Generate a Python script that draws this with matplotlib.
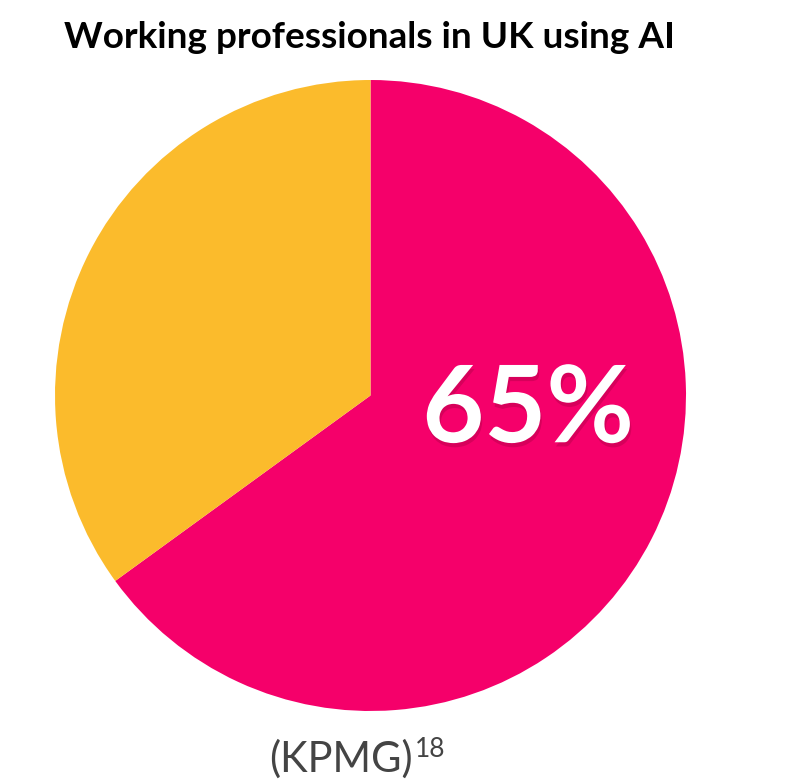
import matplotlib
matplotlib.use("Agg")
import matplotlib.pyplot as plt
import matplotlib.patheffects as pe

labels = ["Using AI", "Not using AI"]
values = [65, 35]
colors = ["#F5006A", "#FBBB2C"]
center_label = "65%"
title = "Working professionals in UK using AI"
source = "(KPMG)"
source_sup = "18"

W, H = 800, 783
fig = plt.figure(figsize=(W / 100, H / 100), dpi=100)
ax = fig.add_axes([55/W, 1 - 711/H, 631/W, 631/H])
ax.pie(values, colors=colors, startangle=90, counterclock=False,
       wedgeprops=dict(linewidth=0))
ax.set_aspect("equal")
ax.set_xlim(-1, 1)
ax.set_ylim(-1, 1)
ax.axis("off")

ax.text(0.5, -0.05, center_label, ha="center", va="center", color="white",
        fontsize=77, family="Lato", fontweight="bold",
        path_effects=[pe.withSimplePatchShadow(offset=(1, -3), shadow_rgbFace="#600020", alpha=0.2)])

fig.text(64/W, 1 - 48/H, title, ha="left", va="baseline", fontsize=26.6,
         family="Lato", fontweight="bold", color="black")

fig.text(413/W, 1 - 772/H, source, ha="right", va="baseline", fontsize=30,
         family="Lato", color="#444444")
fig.text(415/W, 1 - 757/H, source_sup, ha="left", va="baseline", fontsize=19,
         family="Lato", color="#444444")

fig.savefig("out.png", dpi=100)
